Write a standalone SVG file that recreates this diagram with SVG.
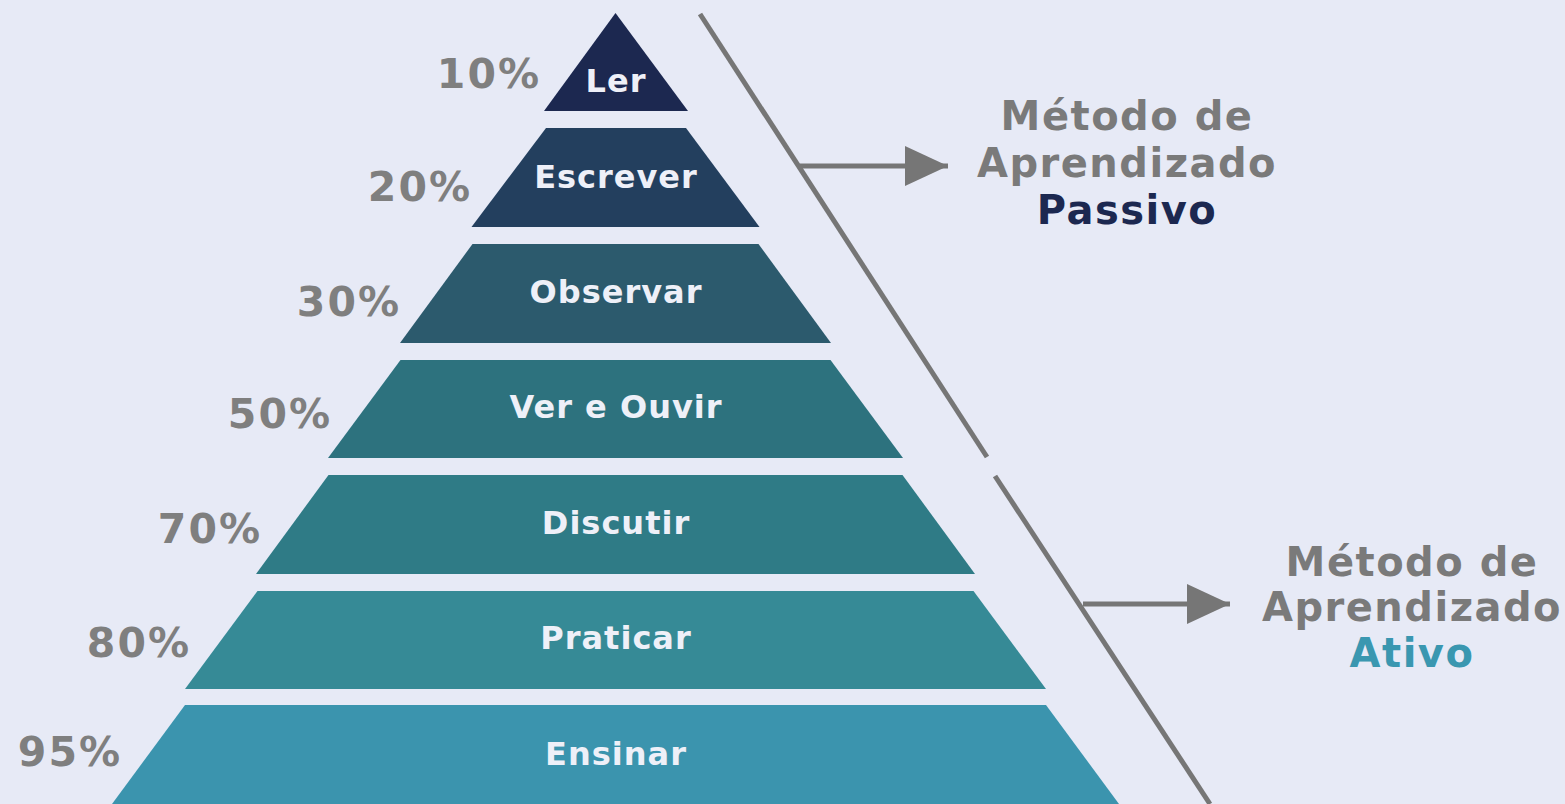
<svg xmlns="http://www.w3.org/2000/svg" width="1565" height="804" viewBox="0 0 1565 804">
<style>
.band{stroke:none}
.lbl{font-family:"DejaVu Sans",Verdana,sans-serif;font-weight:bold;font-size:32px;fill:#eef0f8;text-anchor:middle;letter-spacing:1px}
.pct{font-family:"DejaVu Sans",Verdana,sans-serif;font-weight:bold;font-size:41px;fill:#7f7f7f;text-anchor:end;letter-spacing:2px}
.side{font-family:"DejaVu Sans",Verdana,sans-serif;font-weight:bold;font-size:40px;fill:#7a7a7a;text-anchor:middle;letter-spacing:1.5px}
.ln{stroke:#767676;stroke-width:5;fill:none}
</style>
<defs>
<marker id="ah" markerUnits="userSpaceOnUse" markerWidth="44" markerHeight="40" refX="43" refY="20" orient="auto">
<path d="M0,0 L43,20 L0,40 Z" fill="#767676"/>
</marker>
</defs>
<rect width="1565" height="804" fill="#e7eaf6"/>
<g id="ler"><polygon class="band" points="615.5,13 544,111 688,111" fill="#1c2850"/><text class="lbl" x="616" y="92">Ler</text><text class="pct" x="541" y="88">10%</text></g>
<g id="escrever"><polygon class="band" points="546,128 686,128 759.5,227 471.5,227" fill="#233f5e"/><text class="lbl" x="616" y="188">Escrever</text><text class="pct" x="472" y="201">20%</text></g>
<g id="observar"><polygon class="band" points="472.5,244 758.5,244 831,343 400,343" fill="#2c5a6d"/><text class="lbl" x="616" y="303">Observar</text><text class="pct" x="401" y="316">30%</text></g>
<g id="ver-e-ouvir"><polygon class="band" points="400.5,360 830.5,360 903,458 328,458" fill="#2d727e"/><text class="lbl" x="616" y="418">Ver e Ouvir</text><text class="pct" x="332" y="428">50%</text></g>
<g id="discutir"><polygon class="band" points="328.5,475 902.5,475 975,574 256,574" fill="#2f7b86"/><text class="lbl" x="616" y="534">Discutir</text><text class="pct" x="262" y="543">70%</text></g>
<g id="praticar"><polygon class="band" points="257.5,591 973.5,591 1046,689 185,689" fill="#368a96"/><text class="lbl" x="616" y="649">Praticar</text><text class="pct" x="191" y="657">80%</text></g>
<g id="ensinar"><polygon class="band" points="185,705 1046,705 1119,804 112,804" fill="#3b94ae"/><text class="lbl" x="616" y="765">Ensinar</text><text class="pct" x="122" y="766">95%</text></g>
<g id="connectors">
<line class="ln" x1="700" y1="14" x2="987" y2="457"/>
<line class="ln" x1="995" y1="476" x2="1210" y2="804"/>
<line class="ln" x1="800" y1="166" x2="948" y2="166" marker-end="url(#ah)"/>
<line class="ln" x1="1083" y1="604" x2="1230" y2="604" marker-end="url(#ah)"/>
</g>
<g id="passivo"><text class="side" x="1127" y="130">Método de</text><text class="side" x="1127" y="177">Aprendizado</text><text class="side" x="1127" y="224" style="fill:#1c2850">Passivo</text></g>
<g id="ativo"><text class="side" x="1412" y="576">Método de</text><text class="side" x="1412" y="621">Aprendizado</text><text class="side" x="1412" y="667" style="fill:#3a97b0">Ativo</text></g>
</svg>
